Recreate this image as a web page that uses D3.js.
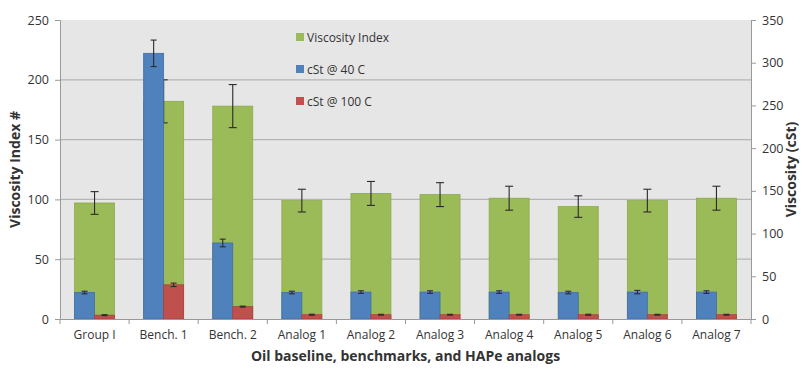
<!DOCTYPE html>
<html>
<head>
<meta charset="utf-8">
<script src="https://cdn.jsdelivr.net/npm/d3@7"></script>
<style>
  body { margin: 0; background: #fff; }
  text { font-family: "Open Sans", "Noto Sans", sans-serif; fill: #333; }
</style>
</head>
<body>
<div class="chart"></div>
<script>
// Data
var categories = ["Group I", "Bench. 1", "Bench. 2", "Analog 1", "Analog 2",
    "Analog 3", "Analog 4", "Analog 5", "Analog 6", "Analog 7"];
var viscIndex = [97, 182, 178, 99, 105, 104, 101, 94, 99, 101];
var viscIndexErr = [9.5, 18, 18, 9.5, 10, 10, 10, 9, 9.5, 10];
var cst40 = [31, 311, 89, 31, 31.5, 31.5, 31.5, 31, 31.5, 31.5];
var cst40Err = [1.5, 15.5, 4.5, 1.5, 1.5, 1.5, 1.5, 1.5, 2, 1.5];
var cst100 = [4.5, 40, 14.5, 5, 5, 5, 5, 5, 5, 5];
var cst100Err = [0.6, 2, 0.6, 0.6, 0.5, 0.5, 0.5, 0.6, 0.5, 0.5];
var leftTicks = [0, 50, 100, 150, 200, 250];
var rightTicks = [0, 50, 100, 150, 200, 250, 300, 350];

var series = [
    { name: "Viscosity Index", color: "#9bbb59" },
    { name: "cSt @ 40 C", color: "#4f81bd" },
    { name: "cSt @ 100 C", color: "#c0504d" }
];

// Configuration
var width = 806;
var height = 371;
var margin = { top: 20, right: 55, bottom: 52, left: 60 };
var plotW = width - margin.left - margin.right;
var plotH = height - margin.top - margin.bottom;
var barW = 40;

var svg = d3.select(".chart").append("svg")
    .attr("width", width)
    .attr("height", height);

var g = svg.append("g")
    .attr("transform", "translate(" + margin.left + "," + margin.top + ")");

// Scales
var x = d3.scaleBand().domain(categories).range([0, plotW]);
var yLeft = d3.scaleLinear().domain([0, 250]).range([plotH, 0]);
var yRight = d3.scaleLinear().domain([0, 350]).range([plotH, 0]);

// Plot background
g.append("rect")
    .attr("width", plotW)
    .attr("height", plotH)
    .attr("fill", "#e6e6e6");

// Gridlines
g.selectAll("line.grid")
    .data(leftTicks.slice(1, -1))
    .enter().append("line")
    .attr("class", "grid")
    .attr("x1", 0).attr("x2", plotW)
    .attr("y1", d => yLeft(d)).attr("y2", d => yLeft(d))
    .attr("stroke", "#b4b4b4")
    .attr("stroke-width", 1.2);

function cx(i) { return x(categories[i]) + x.bandwidth() / 2; }

// Error bar helper
function errorBars(vals, errs, scale, xc, cap) {
    var eg = g.append("g");
    vals.forEach(function(v, i) {
        var xm = xc(i);
        var y1 = scale(v + errs[i]), y2 = scale(v - errs[i]);
        eg.append("line").attr("x1", xm).attr("x2", xm).attr("y1", y1).attr("y2", y2);
        eg.append("line").attr("x1", xm - cap).attr("x2", xm + cap).attr("y1", y1).attr("y2", y1);
        eg.append("line").attr("x1", xm - cap).attr("x2", xm + cap).attr("y1", y2).attr("y2", y2);
    });
    eg.selectAll("line").attr("stroke", "#2b2b2b").attr("stroke-width", 1.1);
}

// Viscosity index bars (primary axis)
g.selectAll("rect.vi")
    .data(viscIndex)
    .enter().append("rect")
    .attr("class", "vi")
    .attr("x", (d, i) => cx(i) - barW / 2)
    .attr("width", barW)
    .attr("y", d => yLeft(d))
    .attr("height", d => plotH - yLeft(d))
    .attr("fill", series[0].color)
    .attr("stroke", "#8aab4a")
    .attr("stroke-width", 0.8);

errorBars(viscIndex, viscIndexErr, yLeft, cx, 4);

// cSt bars (secondary axis)
g.selectAll("rect.c40")
    .data(cst40)
    .enter().append("rect")
    .attr("class", "c40")
    .attr("x", (d, i) => cx(i) - barW / 2)
    .attr("width", barW / 2)
    .attr("y", d => yRight(d))
    .attr("height", d => plotH - yRight(d))
    .attr("fill", series[1].color)
    .attr("stroke", "#3f6fa5")
    .attr("stroke-width", 0.8);

g.selectAll("rect.c100")
    .data(cst100)
    .enter().append("rect")
    .attr("class", "c100")
    .attr("x", (d, i) => cx(i))
    .attr("width", barW / 2)
    .attr("y", d => yRight(d))
    .attr("height", d => plotH - yRight(d))
    .attr("fill", series[2].color)
    .attr("stroke", "#a8403d")
    .attr("stroke-width", 0.8);

errorBars(cst40, cst40Err, yRight, i => cx(i) - barW / 4, 3);
errorBars(cst100, cst100Err, yRight, i => cx(i) + barW / 4, 3);

// Axes
var leftAxis = g.append("g")
    .call(d3.axisLeft(yLeft).tickValues(leftTicks).tickSize(5).tickPadding(6));
var rightAxis = g.append("g")
    .attr("transform", "translate(" + plotW + ",0)")
    .call(d3.axisRight(yRight).tickValues(rightTicks).tickSize(5).tickPadding(6));
var bottomAxis = g.append("g")
    .attr("transform", "translate(0," + plotH + ")")
    .call(d3.axisBottom(x).tickSize(0).tickPadding(11));

// Category boundary ticks
g.selectAll("line.btick")
    .data(d3.range(categories.length + 1))
    .enter().append("line")
    .attr("class", "btick")
    .attr("x1", i => i * x.step()).attr("x2", i => i * x.step())
    .attr("y1", plotH).attr("y2", plotH + 5)
    .attr("stroke", "#999");

[leftAxis, rightAxis, bottomAxis].forEach(function(a) {
    a.selectAll(".domain").attr("stroke", "#999");
    a.selectAll(".tick line").attr("stroke", "#999");
    a.selectAll("text")
        .style("font-family", "'Open Sans', 'Noto Sans', sans-serif")
        .style("font-size", "12px")
        .attr("fill", "#333");
});
leftAxis.selectAll("text").style("font-size", "12.5px");
rightAxis.selectAll("text").style("font-size", "12.5px");

// Axis titles
svg.append("text")
    .attr("transform", "translate(20," + (margin.top + plotH / 2) + ") rotate(-90)")
    .attr("text-anchor", "middle")
    .style("font-size", "14px")
    .style("font-weight", "bold")
    .text("Viscosity Index #");

svg.append("text")
    .attr("transform", "translate(" + (width - 10) + "," + (margin.top + plotH / 2) + ") rotate(-90)")
    .attr("text-anchor", "middle")
    .style("font-size", "14px")
    .style("font-weight", "bold")
    .text("Viscosity (cSt)");

svg.append("text")
    .attr("x", margin.left + plotW / 2)
    .attr("y", 361)
    .attr("text-anchor", "middle")
    .style("font-size", "14px")
    .style("font-weight", "bold")
    .text("Oil baseline, benchmarks, and HAPe analogs");

// Legend
var legend = svg.selectAll("g.legend")
    .data(series)
    .enter().append("g")
    .attr("class", "legend")
    .attr("transform", (d, i) => "translate(296," + (37 + i * 32) + ")");

legend.append("rect")
    .attr("x", 0).attr("y", -4)
    .attr("width", 8).attr("height", 8)
    .attr("fill", d => d.color);

legend.append("text")
    .attr("x", 11)
    .attr("y", 4.5)
    .style("font-size", "12px")
    .text(d => d.name);
</script>
</body>
</html>
